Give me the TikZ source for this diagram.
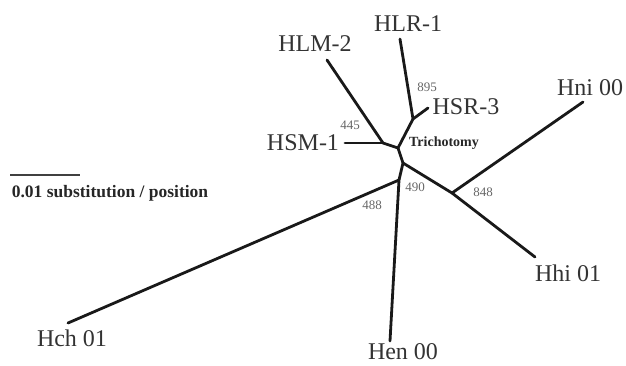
\documentclass[tikz,border=0pt]{standalone}
\usepackage{fontspec}
\setmainfont{Liberation Serif}
\begin{document}
\begin{tikzpicture}[x=1pt,y=-1pt,
  branch/.style={line width=2.8pt, draw=black!90, line cap=round, line join=round},
  taxon/.style={inner sep=0pt, anchor=center, text=black!80, font=\fontsize{24}{26}\selectfont},
  boot/.style={inner sep=0pt, anchor=center, text=black!60, font=\fontsize{13}{14}\selectfont},
  note/.style={inner sep=0pt, anchor=center, text=black!85, font=\bfseries\fontsize{14}{15}\selectfont}]
\useasboundingbox (0,0) rectangle (626,365);
% tree points
\coordinate (tHLR) at (400,39);
\coordinate (tHSR) at (428,108);
\coordinate (nA) at (413,119);
\coordinate (tHLM) at (327,60);
\coordinate (tHSM) at (345,143);
\coordinate (nB) at (383,143);
\coordinate (nT) at (398,148);
\coordinate (nC) at (403,163);
\coordinate (nD) at (452,193);
\coordinate (tHni) at (583,102);
\coordinate (tHhi) at (535,257);
\coordinate (nE) at (399,180);
\coordinate (tHch) at (68,323);
\coordinate (tHen) at (390,341);
% branches
\draw[branch] (tHLR) -- (nA) -- (tHSR);
\draw[branch] (nA) -- (nT);
\draw[branch] (tHLM) -- (nB) -- (nT);
\draw[branch] (tHSM) -- (nB);
\draw[branch] (nT) -- (nC);
\draw[branch] (nC) -- (nD) -- (tHni);
\draw[branch] (nD) -- (tHhi);
\draw[branch] (nC) -- (nE) -- (tHen);
\draw[branch] (nE) -- (tHch);
% taxon labels
\node[taxon] (lHLR) at (408,24) {HLR-1};
\node[taxon] (lHLM) at (315,44) {HLM-2};
\node[taxon] (lHSR) at (466,107) {HSR-3};
\node[taxon] (lHSM) at (303,143) {HSM-1};
\node[taxon] (lHni) at (590,88) {Hni 00};
\node[taxon] (lHhi) at (568,273) {Hhi 01};
\node[taxon] (lHch) at (72,338) {Hch 01};
\node[taxon] (lHen) at (403,352) {Hen 00};
% bootstrap values
\node[boot] (b895) at (427,87) {895};
\node[boot] (b445) at (350,125) {445};
\node[boot] (b490) at (415,187) {490};
\node[boot] (b488) at (372,205) {488};
\node[boot] (b848) at (483,192) {848};
\node[note] (tri) at (444,143) {Trichotomy};
% scale bar
\coordinate (sA) at (10,175);
\coordinate (sB) at (80,175);
\draw[line width=2.8pt, draw=black!75] (sA) -- (sB);
\node[note, font=\bfseries\fontsize{17.5}{19}\selectfont] (scl) at (110,193) {0.01 substitution / position};
\end{tikzpicture}
\end{document}
